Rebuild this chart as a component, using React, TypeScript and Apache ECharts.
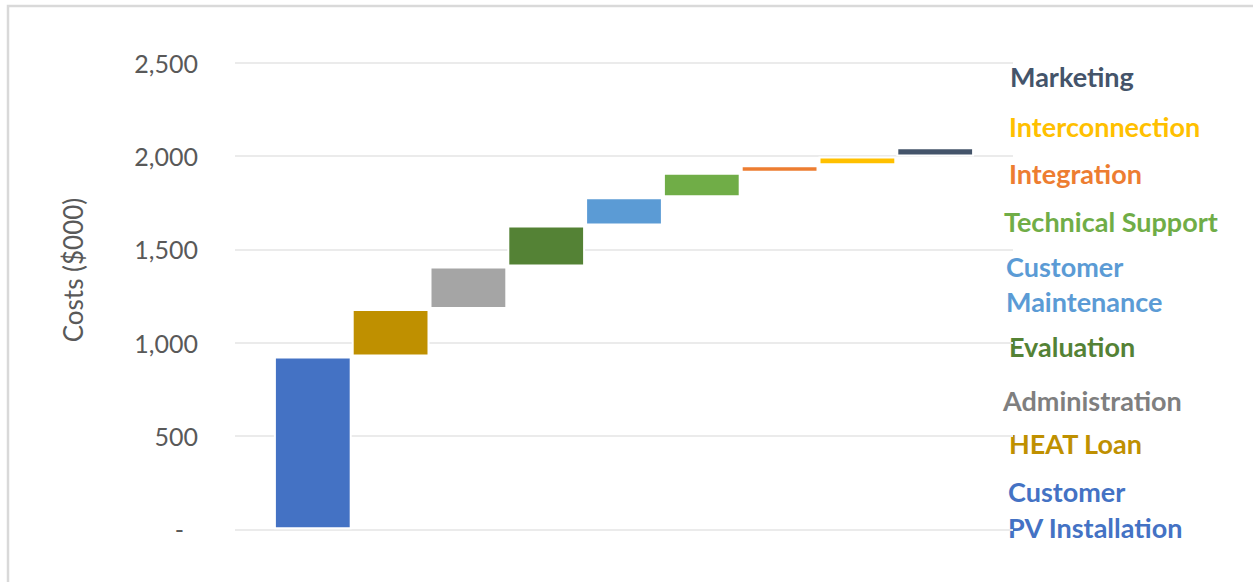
import { useEffect, useRef } from "react";
import * as echarts from "echarts";

// Cost components ($000), in build-up order
const categories = [
  "Customer PV Installation",
  "HEAT Loan",
  "Administration",
  "Evaluation",
  "Customer Maintenance",
  "Technical Support",
  "Integration",
  "Interconnection",
  "Marketing",
];
const costs = [926, 255, 227, 220, 151, 131, 41, 47, 49];
const barColors = ["#4472C4", "#BF9000", "#A5A5A5", "#548235", "#5B9BD5", "#70AD47", "#ED7D31", "#FFC000", "#44546A"];
const labelColors = ["#4472C4", "#BF9000", "#7F7F7F", "#548235", "#5B9BD5", "#70AD47", "#ED7D31", "#FFC000", "#44546A"];
const labelLines = [
  ["Customer", "PV Installation"],
  ["HEAT Loan"],
  ["Administration"],
  ["Evaluation"],
  ["Customer", "Maintenance"],
  ["Technical Support"],
  ["Integration"],
  ["Interconnection"],
  ["Marketing"],
];
const yMin = 0;
const yMax = 2500;
const yStep = 500;
const yTitle = "Costs ($000)";

// Where each side label sits: left edge and vertical centre of every line
const labelLayout = [
  { x: 1008, y: [491, 527] },
  { x: 1009, y: [443] },
  { x: 1003, y: [400] },
  { x: 1009, y: [346] },
  { x: 1006, y: [266, 301] },
  { x: 1004, y: [221] },
  { x: 1009, y: [173] },
  { x: 1009, y: [126] },
  { x: 1010, y: [76] },
];

const FONT = "Lato, 'Open Sans', sans-serif";

export default function App() {
  const ref = useRef<HTMLDivElement>(null);

  useEffect(() => {
    if (!ref.current) return;
    const chart = echarts.init(ref.current, null, { renderer: "svg" });

    // Blank slots at both ends keep the columns off the plot edges
    const axisCats = ["", ...categories, ""];
    const bases: (number | string)[] = ["-"];
    let running = 0;
    costs.forEach((v) => {
      bases.push(running);
      running += v;
    });
    bases.push("-");
    const steps: any[] = [
      "-",
      ...costs.map((v, i) => ({ value: v, itemStyle: { color: barColors[i] } })),
      "-",
    ];

    const labelTexts: any[] = [];
    labelLines.forEach((lines, i) => {
      lines.forEach((line, j) => {
        labelTexts.push({
          type: "text",
          x: labelLayout[i].x,
          y: labelLayout[i].y[j],
          silent: true,
          style: {
            text: line,
            fill: labelColors[i],
            font: `bold 27px ${FONT}`,
            textAlign: "left",
            textVerticalAlign: "middle",
          },
        });
      });
    });

    chart.setOption({
      animation: false,
      backgroundColor: "#ffffff",
      grid: { left: 235, right: 240, top: 62.7, bottom: 52.7, containLabel: false },
      xAxis: {
        type: "category",
        data: axisCats,
        boundaryGap: false,
        axisLine: { show: false },
        axisTick: { show: false },
        axisLabel: { show: false },
        splitLine: { show: false },
      },
      yAxis: {
        type: "value",
        min: yMin,
        max: yMax,
        interval: yStep,
        axisLine: { show: false },
        axisTick: { show: false },
        splitLine: { lineStyle: { color: "#ebebeb", width: 2 } },
        axisLabel: {
          margin: 37,
          color: "#595959",
          fontFamily: FONT,
          fontSize: 25,
          formatter: (v: number) => (v === 0 ? "{dash|-}" : v.toLocaleString("en-US")),
          rich: {
            dash: { color: "#595959", fontFamily: FONT, fontSize: 25, padding: [0, 14, 0, 0] },
          },
        },
      },
      series: [
        {
          type: "bar",
          stack: "total",
          data: bases,
          barWidth: "100%",
          itemStyle: { color: "transparent" },
          silent: true,
        },
        {
          type: "bar",
          stack: "total",
          data: steps,
          barWidth: "100%",
          itemStyle: { borderColor: "#ffffff", borderWidth: 2 },
          silent: true,
        },
      ],
      graphic: [
        {
          type: "rect",
          silent: true,
          shape: { x: 8, y: 6, width: 1300, height: 640 },
          style: { fill: "none", stroke: "#d9d9d9", lineWidth: 2.5 },
        },
        {
          type: "text",
          x: 73,
          y: 270,
          rotation: Math.PI / 2,
          silent: true,
          style: {
            text: yTitle,
            fill: "#595959",
            font: `26px ${FONT}`,
            textAlign: "center",
            textVerticalAlign: "middle",
          },
        },
        ...labelTexts,
      ],
    });

    return () => chart.dispose();
  }, []);

  return (
    <div
      ref={ref}
      style={{ position: "fixed", left: 0, top: 0, width: 1253, height: 582, background: "#ffffff" }}
    />
  );
}
